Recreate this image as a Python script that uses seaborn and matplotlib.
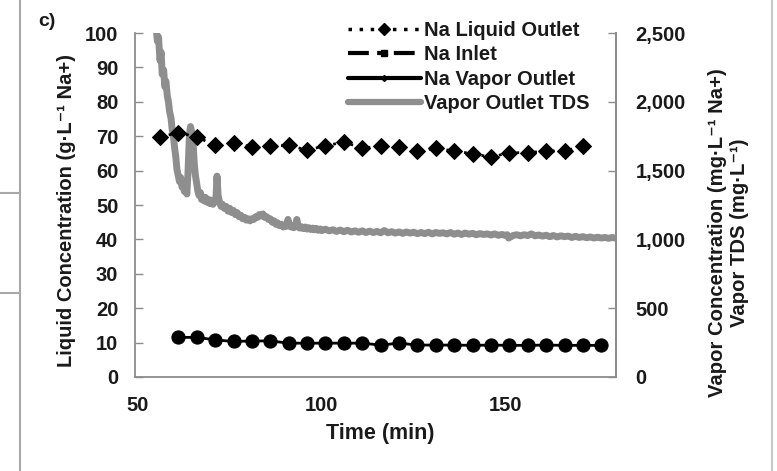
import numpy as np
import pandas as pd
import seaborn as sns
import matplotlib
matplotlib.use("Agg")
import matplotlib.pyplot as plt
from matplotlib.lines import Line2D
from matplotlib.ticker import FuncFormatter

# ---------------- data ----------------
liquid_time = [56, 61, 66, 71, 76, 81, 86, 91, 96, 101, 106, 111,
               116, 121, 126, 131, 136, 141, 146, 151, 156, 161, 166, 171]
liquid_na = [69.8, 71.0, 69.8, 67.3, 68.0, 66.9, 67.2, 67.3, 66.0, 67.2, 68.3, 66.5,
             67.2, 66.9, 65.6, 66.5, 65.7, 64.9, 63.9, 65.2, 65.2, 65.7, 65.7, 67.1]

inlet_time = []
inlet_na = []

vapor_time = [61, 66, 71, 76, 81, 86, 91, 96, 101, 106, 111, 116,
              121, 126, 131, 136, 141, 146, 151, 156, 161, 166, 171, 176]
vapor_na = [288, 288, 270, 258, 262, 262, 246, 246, 246, 246, 246, 232,
            246, 232, 232, 232, 230, 232, 230, 230, 232, 230, 230, 230]

tds_time = [54.5, 55.0, 55.3, 55.6, 56.0, 56.3, 56.6, 57.0, 57.3, 57.6, 58.0, 58.3,
            58.6, 59.0, 59.3, 59.6, 60.0, 60.3, 60.6, 61.0, 61.3, 61.6, 62.0, 62.3,
            62.6, 63.0, 63.3, 63.6, 64.0, 64.3, 64.6, 65.0, 65.3, 65.6, 66.0, 66.3,
            66.6, 67.0, 67.3, 67.6, 68.0, 68.4, 68.8, 69.2, 69.6, 70.0, 70.4, 70.8,
            71.2, 71.5, 71.8, 72.2, 72.6, 73.0, 73.5, 74.0, 74.5, 75.0, 75.5, 76.0,
            76.5, 77.0, 77.5, 78.0, 78.5, 79.0, 79.5, 80.0, 80.5, 81.0, 81.5, 82.0,
            82.5, 83.0, 83.5, 84.0, 84.5, 85.0, 85.5, 86.0, 86.5, 87.0, 87.5, 88.0,
            88.5, 89.0, 89.5, 90.0, 90.4, 90.8, 91.2, 91.6, 92.0, 92.4, 92.8, 93.2,
            93.6, 94.0, 94.5, 95.0, 95.5, 96.0, 96.5, 97.0, 97.5, 98.0, 98.5, 99.0,
            99.5, 100.0, 101.0, 102.0, 103.0, 104.0, 105.0, 106.0, 107.0, 108.0, 109.0, 110.0,
            111.0, 112.0, 113.0, 114.0, 115.0, 116.0, 117.0, 118.0, 119.0, 120.0, 121.0, 122.0,
            123.0, 124.0, 125.0, 126.0, 127.0, 128.0, 129.0, 130.0, 131.0, 132.0, 133.0, 134.0,
            135.0, 136.0, 137.0, 138.0, 139.0, 140.0, 141.0, 142.0, 143.0, 144.0, 145.0, 146.0,
            147.0, 148.0, 149.0, 150.0, 150.4, 150.8, 152.0, 153.0, 154.0, 155.0, 156.0, 157.0,
            158.0, 159.0, 160.0, 161.0, 162.0, 163.0, 164.0, 165.0, 166.0, 167.0, 168.0, 169.0,
            170.0, 171.0, 172.0, 173.0, 174.0, 175.0, 176.0, 177.0, 178.0, 179.0, 180.0]
tds_val = [2650, 2520, 2440, 2470, 2300, 2360, 2200, 2230, 2110, 2150, 2040, 2000,
           1930, 1880, 1800, 1760, 1660, 1600, 1510, 1460, 1420, 1450, 1380, 1410,
           1350, 1390, 1330, 1480, 1760, 1820, 1780, 1700, 1560, 1470, 1400, 1350,
           1320, 1340, 1290, 1310, 1280, 1305, 1270, 1290, 1260, 1285, 1255, 1275,
           1290, 1460, 1320, 1270, 1240, 1255, 1225, 1240, 1205, 1225, 1195, 1210,
           1180, 1195, 1165, 1175, 1150, 1160, 1140, 1150, 1135, 1150, 1145, 1165,
           1160, 1180, 1170, 1185, 1160, 1165, 1145, 1150, 1125, 1135, 1110, 1120,
           1100, 1110, 1090, 1105, 1095, 1145, 1100, 1090, 1100, 1085, 1095, 1145,
           1090, 1082, 1092, 1078, 1090, 1075, 1085, 1072, 1082, 1070, 1080, 1066,
           1076, 1064, 1074, 1062, 1070, 1058, 1068, 1056, 1066, 1054, 1062, 1052,
           1062, 1050, 1060, 1050, 1058, 1048, 1064, 1048, 1056, 1046, 1054, 1044,
           1054, 1046, 1052, 1042, 1050, 1042, 1052, 1040, 1050, 1044, 1048, 1040,
           1050, 1038, 1046, 1036, 1046, 1038, 1044, 1034, 1042, 1036, 1040, 1032,
           1040, 1030, 1036, 1028, 1034, 1010, 1028, 1034, 1026, 1034, 1028, 1040,
           1026, 1032, 1024, 1030, 1020, 1028, 1018, 1026, 1020, 1024, 1014, 1022,
           1014, 1020, 1012, 1018, 1010, 1016, 1010, 1014, 1008, 1014, 1008]

x_ticks = [50, 100, 150]
left_ticks = [0, 10, 20, 30, 40, 50, 60, 70, 80, 90, 100]
right_ticks = [0, 500, 1000, 1500, 2000, 2500]

# ---------------- style ----------------
sns.set_style("white")
plt.rcParams["font.family"] = ["Liberation Sans", "DejaVu Sans"]
plt.rcParams["font.weight"] = "bold"

W, H = 777, 471
fig = plt.figure(figsize=(W / 100, H / 100), dpi=100)
ax = fig.add_axes([135 / W, 1 - 377 / H, (616 - 135) / W, (377 - 33) / H])
ax2 = ax.twinx()
ax.set_zorder(ax2.get_zorder() + 1)
ax.patch.set_visible(False)

spine_c = "#8c8c8c"
gray_line = "#8e8e8e"
text_c = "#1a1a1a"

# right axis series
sns.lineplot(x=tds_time, y=tds_val, ax=ax2, color=gray_line, lw=5.0,
             estimator=None, sort=False)
sns.lineplot(x=vapor_time, y=vapor_na, ax=ax2, color="black", lw=2.0,
             marker="o", markersize=9.5, markeredgecolor="black",
             estimator=None, sort=False)

# left axis series
sns.lineplot(x=liquid_time, y=liquid_na, ax=ax, color="black", lw=2.0,
             linestyle=(0, (1, 2.2)), marker="D", markersize=8.0,
             markeredgecolor="black", estimator=None, sort=False)
if len(inlet_time):
    sns.lineplot(x=inlet_time, y=inlet_na, ax=ax, color="black", lw=2.5,
                 linestyle="-.", marker="s", estimator=None, sort=False)

ax.set_xlim(49.2, 180)
ax.set_ylim(0, 100)
ax2.set_ylim(0, 2500)
ax.set_xticks(x_ticks)
ax.set_yticks(left_ticks)
ax2.set_yticks(right_ticks)
ax2.yaxis.set_major_formatter(FuncFormatter(lambda v, p: f"{int(v):,}"))

for a in (ax, ax2):
    for s in a.spines.values():
        s.set_color(spine_c)
        s.set_linewidth(1.3)
    a.spines["top"].set_visible(False)
ax2.spines["left"].set_visible(False)
ax2.spines["bottom"].set_visible(False)

tick_fs = 14.5
ax.tick_params(axis="y", direction="in", length=6, width=1, color=spine_c,
               labelsize=tick_fs, pad=12, labelcolor=text_c)
ax.tick_params(axis="x", direction="in", length=4, width=1, color=spine_c,
               labelsize=tick_fs, pad=14, labelcolor=text_c)
ax2.tick_params(axis="y", direction="in", length=6, width=1, color=spine_c,
                labelsize=tick_fs, pad=14, labelcolor=text_c)
for lab in ax.get_xticklabels() + ax.get_yticklabels() + ax2.get_yticklabels():
    lab.set_fontweight("bold")

ax.grid(False)
ax2.grid(False)

ax.set_xlabel("Time (min)", fontsize=15.5, fontweight="bold", color=text_c)
ax.xaxis.label.set_va("center")
ax.xaxis.set_label_coords(0.51, -0.163)
ax.set_ylabel("Liquid Concentration (g\u00b7L\u207b\u00b9 Na+)", fontsize=14.5,
              fontweight="bold", color=text_c)
ax.yaxis.label.set_va("center")
ax.yaxis.set_label_coords(-0.143, 0.483)
ax2.set_ylabel("Vapor Concentration (mg\u00b7L\u207b\u00b9 Na+)\nVapor TDS (mg\u00b7L\u207b\u00b9)",
               fontsize=14.6, fontweight="bold", color=text_c,
               linespacing=1.2, rotation=90)
ax2.yaxis.label.set_va("center")
ax2.yaxis.set_label_coords(1.233, 0.42)

# legend
handles = [
    Line2D([], [], color="black", lw=2.5, linestyle=(0, (1, 2.2)), marker="D", markersize=6),
    Line2D([], [], color="black", lw=3, linestyle=(0, (5, 2, 1, 3)), marker="s", markersize=5),
    Line2D([], [], color="black", lw=3, marker="D", markersize=3),
    Line2D([], [], color=gray_line, lw=4.5),
]
labels = ["Na Liquid Outlet", "Na Inlet", "Na Vapor Outlet", "Vapor Outlet TDS"]
leg = fig.legend(handles, labels, loc="upper left",
                 bbox_to_anchor=(336 / W, 1 - 9 / H), frameon=False,
                 fontsize=14.5, handlelength=3.6, handletextpad=0.15,
                 labelspacing=0.26, borderpad=0.1)
for t in leg.get_texts():
    t.set_fontweight("bold")
    t.set_color(text_c)

# panel tag and frame
fig.text(38 / W, 1 - 22 / H, "c)", fontsize=14, fontweight="bold",
         color=text_c, va="center")
fig.add_artist(Line2D([20 / W, 20 / W], [0, 1], color="#a8a8a8", lw=1.5))
fig.add_artist(Line2D([772 / W, 772 / W], [0, 1], color="#c8c8c8", lw=1.5))
fig.add_artist(Line2D([0, 20 / W], [1 - 193 / H, 1 - 193 / H], color="#a8a8a8", lw=1.5))
fig.add_artist(Line2D([0, 20 / W], [1 - 293 / H, 1 - 293 / H], color="#a8a8a8", lw=1.5))

fig.savefig("out.png", dpi=100, facecolor="white")
